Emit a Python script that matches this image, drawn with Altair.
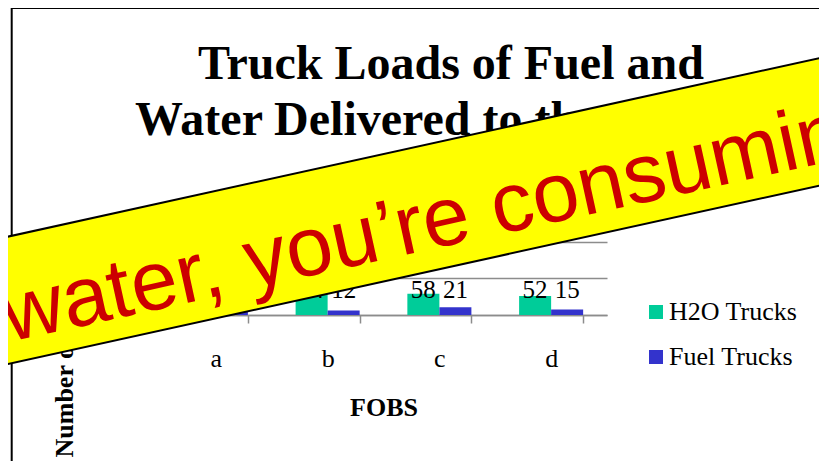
import altair as alt
import pandas as pd

# ---- data ----
categories = ["a", "b", "c", "d"]
series_names = ["H2O Trucks", "Fuel Trucks"]
h2o_trucks = [55, 64, 58, 52]
fuel_trucks = [17, 12, 21, 15]
series_colors = ["#00CC99", "#3333CC"]
title_lines = ["Truck Loads of Fuel and", "Water Delivered to the FOBS"]
x_title = "FOBS"
y_title = "Number of Trucks"
banner_text = "water, you\u2019re consuming"

rows = []
for i, c in enumerate(categories):
    rows.append({"FOB": c, "Series": series_names[0], "Trucks": h2o_trucks[i]})
    rows.append({"FOB": c, "Series": series_names[1], "Trucks": fuel_trucks[i]})
df = pd.DataFrame(rows)

SERIF = "Liberation Serif"
SANS = "Liberation Sans"
GRAY = "#8c8c8c"

W, H = 447, 110
PAD = {"left": 152, "top": 197, "right": 212, "bottom": 146}

x_enc = alt.X(
    "FOB:N", sort=categories,
    scale=alt.Scale(paddingInner=0.427, paddingOuter=0.2135),
    axis=alt.Axis(
        title=x_title, labelAngle=0, tickBand="extent", tickSize=8,
        tickColor=GRAY, tickWidth=1.5, domainColor=GRAY, domainWidth=1.5,
        labelFont=SERIF, labelFontSize=26, labelColor="black",
        labelBaseline="alphabetic", labelPadding=43,
        titleFont=SERIF, titleFontSize=26, titleFontWeight="bold",
        titleColor="black", titleBaseline="alphabetic", titleY=100, grid=False,
    ),
)
y_enc = alt.Y(
    "Trucks:Q",
    scale=alt.Scale(domain=[0, 300], nice=False),
    axis=alt.Axis(
        title=y_title, labels=False, ticks=False, domain=False, grid=True,
        values=[0, 100, 200], gridColor=GRAY, gridWidth=1.5,
        titleFont=SERIF, titleFontSize=26, titleFontWeight="bold",
        titleColor="black", titleAngle=270, titleAlign="left",
        titleBaseline="alphabetic", titleX=-88, titleY=252,
    ),
)
color_enc = alt.Color(
    "Series:N", sort=series_names,
    scale=alt.Scale(domain=series_names, range=series_colors),
    legend=alt.Legend(
        title=None, orient="none", legendX=483, legendY=94,
        symbolType="square", symbolSize=196, symbolStrokeWidth=0,
        labelFont=SERIF, labelFontSize=26, labelColor="black",
        labelOffset=0, rowPadding=19,
    ),
)
xoff = alt.XOffset("Series:N", sort=series_names,
                   scale=alt.Scale(paddingInner=0, paddingOuter=0))

bars = alt.Chart(df).mark_bar().encode(
    x=x_enc, xOffset=xoff, y=y_enc, color=color_enc
)

value_labels = alt.Chart(df).mark_text(
    font=SERIF, fontSize=25, color="black", baseline="alphabetic", dy=-17
).encode(
    x=alt.X("FOB:N", sort=categories),
    xOffset=alt.XOffset("Series:N", sort=series_names),
    y=alt.datum(0),
    text="Trucks:Q",
)

one = pd.DataFrame({"k": [0]})

title1 = alt.Chart(pd.DataFrame({"t": [title_lines[0]]})).mark_text(
    font=SERIF, fontSize=48, fontWeight="bold", align="left",
    baseline="alphabetic", color="black"
).encode(x=alt.value(38), y=alt.value(-126), text="t:N")

title2 = alt.Chart(pd.DataFrame({"t": [title_lines[1]]})).mark_text(
    font=SERIF, fontSize=48, fontWeight="bold", align="left",
    baseline="alphabetic", color="black"
).encode(x=alt.value(-25), y=alt.value(-70), text="t:N")

border_left = alt.Chart(one).mark_rule(color="black", strokeWidth=2).encode(
    x=alt.value(-148.3), x2=alt.value(-148.3), y=alt.value(-197), y2=alt.value(260)
)
border_top = alt.Chart(one).mark_rule(color="black", strokeWidth=2).encode(
    x=alt.value(-149), x2=alt.value(700), y=alt.value(-197), y2=alt.value(-197)
)

banner_edge = alt.Chart(one).mark_rule(
    color="black", strokeWidth=126.5, strokeCap="butt"
).encode(x=alt.value(-200), y=alt.value(105.9), x2=alt.value(710), y2=alt.value(-94.3))
banner_fill = alt.Chart(one).mark_rule(
    color="#FFFF00", strokeWidth=122.5, strokeCap="butt"
).encode(x=alt.value(-200), y=alt.value(105.9), x2=alt.value(710), y2=alt.value(-94.3))
banner_words = alt.Chart(pd.DataFrame({"t": [banner_text]})).mark_text(
    font=SANS, fontSize=84, color="#CC0000", align="left",
    baseline="alphabetic", angle=347.6
).encode(x=alt.value(-151), y=alt.value(137), text="t:N")

chart = alt.layer(
    bars, value_labels, title1, title2, border_left, border_top,
    banner_edge, banner_fill, banner_words
).properties(
    width=W, height=H, padding=PAD,
    autosize=alt.AutoSizeParams(type="none"),
    background="white",
).configure_view(stroke=None)

chart.save("out.html", embed_options={"renderer": "svg", "actions": False})
